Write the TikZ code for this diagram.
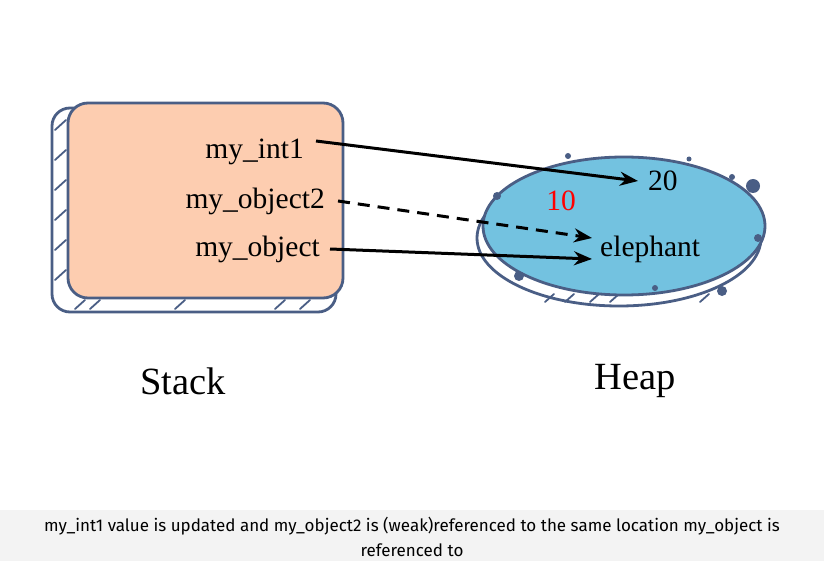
\documentclass[tikz,border=0pt]{standalone}
\usepackage{fontspec}
\setmainfont{Liberation Serif}
\newfontfamily\capfont{Fira Sans}
\usetikzlibrary{arrows.meta}
\definecolor{peach}{HTML}{FDCDB0}
\definecolor{sky}{HTML}{73C2E0}
\definecolor{ink}{HTML}{4A5E85}
\definecolor{capbg}{HTML}{F3F3F3}
\tikzset{
  outline/.style={draw=ink, line width=2.8pt},
  hatch/.style={draw=ink, line width=1.8pt, line cap=round},
  lbl/.style={font=\fontsize{29.5}{34}\selectfont, inner sep=0pt},
  big/.style={font=\fontsize{38.5}{42}\selectfont, inner sep=0pt},
  ref/.style={line width=3pt, -{Stealth[length=18pt,width=14pt]}},
  dot/.style={fill=ink, draw=none}
}
\begin{document}
\begin{tikzpicture}[x=1pt,y=-1pt]
\useasboundingbox (0,0) rectangle (824,561);
\fill[white] (0,0) rectangle (824,561);
% caption band
\fill[capbg] (0,510) rectangle (824,561);
\node[font=\capfont\fontsize{17}{25}\selectfont, align=center, inner sep=0pt] (cap) at (412,537)
 {my\_int1 value is updated and my\_object2 is (weak)referenced to the same location my\_object is\\ referenced to};

% Stack back shape
\draw[outline, fill=white, rounded corners=18pt] (52,108) rectangle (336,312);
\foreach \y in {130,160,190,220,250,280} \draw[hatch] (55,\y) -- (66,\y-10);
\foreach \x in {75,90,175,275,300} \draw[hatch] (\x,309) -- (\x+10,300);
% Stack front
\draw[outline, fill=peach, rounded corners=20pt] (68,103) rectangle (343,298);

% Heap back
\draw[outline, fill=white] (619,238) ellipse [x radius=142pt, y radius=68pt];
\foreach \x in {545,565,590,610,700} \draw[hatch] (\x,302) -- (\x+9,294);
% Heap front
\draw[outline, fill=sky] (624,226) ellipse [x radius=141pt, y radius=69pt];
\fill[dot] (497,196) circle (4pt);
\fill[dot] (519,276) circle (5pt);
\fill[dot] (753,186) circle (7pt);
\fill[dot] (722,291) circle (5pt);
\fill[dot] (568,156) circle (3pt);
\fill[dot] (689,159) circle (2.5pt);
\fill[dot] (732,177) circle (3pt);
\fill[dot] (758,238) circle (4pt);
\fill[dot] (655,288) circle (3pt);

% labels
\node[lbl, anchor=east] (int1) at (304,152) {my\_int1};
\node[lbl, anchor=east] (obj2) at (325,201) {my\_object2};
\node[lbl, anchor=east] (obj) at (320,249) {my\_object};
\node[lbl, anchor=west] (v20) at (648,181) {20};
\node[lbl, anchor=center, text=red] (v10) at (561,201) {10};
\node[lbl, anchor=west] (eleph) at (600,249) {elephant};
\node[big] (stack) at (183,381) {Stack};
\node[big] (heap) at (635,381) {Heap};

% connectors
\coordinate (a1) at (316,141);
\coordinate (a2) at (338,201);
\coordinate (a3) at (330,249);
\draw[ref] (a1) -- ([xshift=-10pt]v20.west);
\draw[ref, dash pattern=on 12pt off 8pt] (a2) -- ([xshift=-8pt,yshift=11pt]eleph.west);
\draw[ref] (a3) -- ([xshift=-8pt,yshift=-10pt]eleph.west);
\end{tikzpicture}
\end{document}
